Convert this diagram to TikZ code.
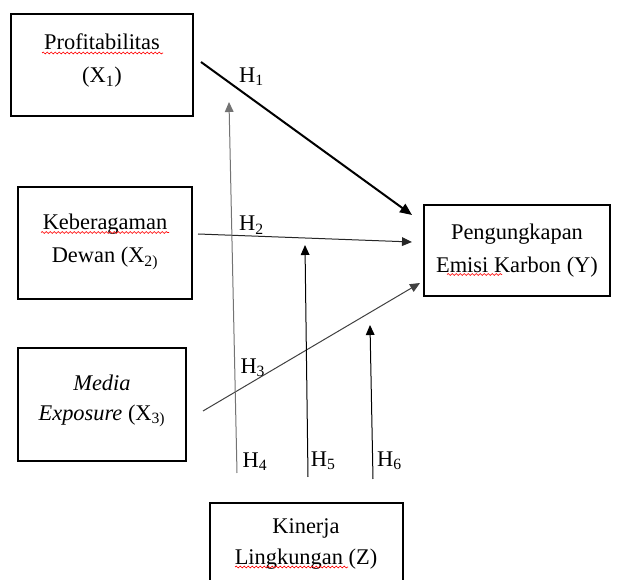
\documentclass[tikz,border=0pt]{standalone}
\usepackage{fontspec}
\setmainfont{Liberation Serif}
\usetikzlibrary{arrows.meta,calc,decorations.pathmorphing}

\begin{document}
\begin{tikzpicture}[x=0.75pt,y=-0.75pt,>={Triangle[length=7.5pt,width=6.5pt]}]

\tikzstyle{box}=[draw,line width=1.5pt,align=center,inner sep=0pt,font=\fontsize{16.8}{25}\selectfont]
\tikzstyle{edge}=[->,line width=0.75pt]
\tikzstyle{hyp}=[font=\fontsize{16.8}{20}\selectfont,inner sep=1pt]
\tikzstyle{squiggle}=[red,line width=0.5pt,decorate,decoration={snake,amplitude=0.7pt,segment length=3pt}]

\useasboundingbox (0,0) rectangle (622,580);
\clip (0,0) rectangle (622,580);

\node[box,minimum width=136.5pt,minimum height=76.5pt,text depth=10.4pt](profit) at (102,65)
	{Profitabilitas\\(X\textsubscript{1})};
\node[box,minimum width=130.5pt,minimum height=84pt,text depth=7.4pt](board) at (105,243.5)
	{Keberagaman\\Dewan (X\textsubscript{2)}};
\node[box,minimum width=126pt,minimum height=84.75pt,text depth=11pt,
	font=\fontsize{16.8}{22}\selectfont](media) at (102,405)
	{\textit{Media}\\\textit{Exposure} (X\textsubscript{3)}};
\node[box,minimum width=139.5pt,minimum height=68.25pt](carbon) at (517,250.5)
	{Pengungkapan\\Emisi Karbon (Y)};
\node[box,anchor=north,minimum width=144.75pt,minimum height=61.5pt,
	font=\fontsize{16.8}{23.25}\selectfont](env) at (306,502)
	{Kinerja\\Lingkungan (Z)};

% free ends of the moderating arrows
\coordinate(t4) at (229,102);
\coordinate(t5) at (305,245);
\coordinate(t6) at (370,325);

\draw[edge,line width=1.5pt,>={Triangle[length=9pt,width=7.5pt]}]
	($(profit.east)+(7,-3)$) -- node[hyp,pos=0.17,above right]{H\textsubscript{1}} ($(carbon.west)+(-11,-35.5)$);
\draw[edge,black!85]($(board.east)+(5,-9.5)$) -- node[hyp,black,pos=0.25,above]{H\textsubscript{2}} ($(carbon.west)+(-11,-8.5)$);
\draw[edge,black!75]($(media.east)+(16,6)$) -- node[hyp,black,pos=0.23,above,yshift=2pt]{H\textsubscript{3}} ($(carbon.west)+(-3,32.5)$);

\draw[edge,black!55]($(env.north)+(-69,-29)$) -- node[hyp,black,pos=0.03,right=3pt]{H\textsubscript{4}} (t4);
\draw[edge]($(env.north)+(2,-25)$) -- node[hyp,pos=0.07,right=1pt]{H\textsubscript{5}} (t5);
\draw[edge]($(env.north)+(67,-23)$) -- node[hyp,pos=0.12,right=2pt]{H\textsubscript{6}} (t6);

% spelling marks under words
\draw[squiggle]($(profit.center)+(-60,-12)$) -- ++(121,0);
\draw[squiggle]($(board.center)+(-64,-11)$) -- ++(128,0);
\draw[squiggle]($(carbon.center)+(-70,24)$) -- ++(55,0);
\draw[squiggle]($(env.north)+(-71,65)$) -- ++(113,0);

\end{tikzpicture}
\end{document}
